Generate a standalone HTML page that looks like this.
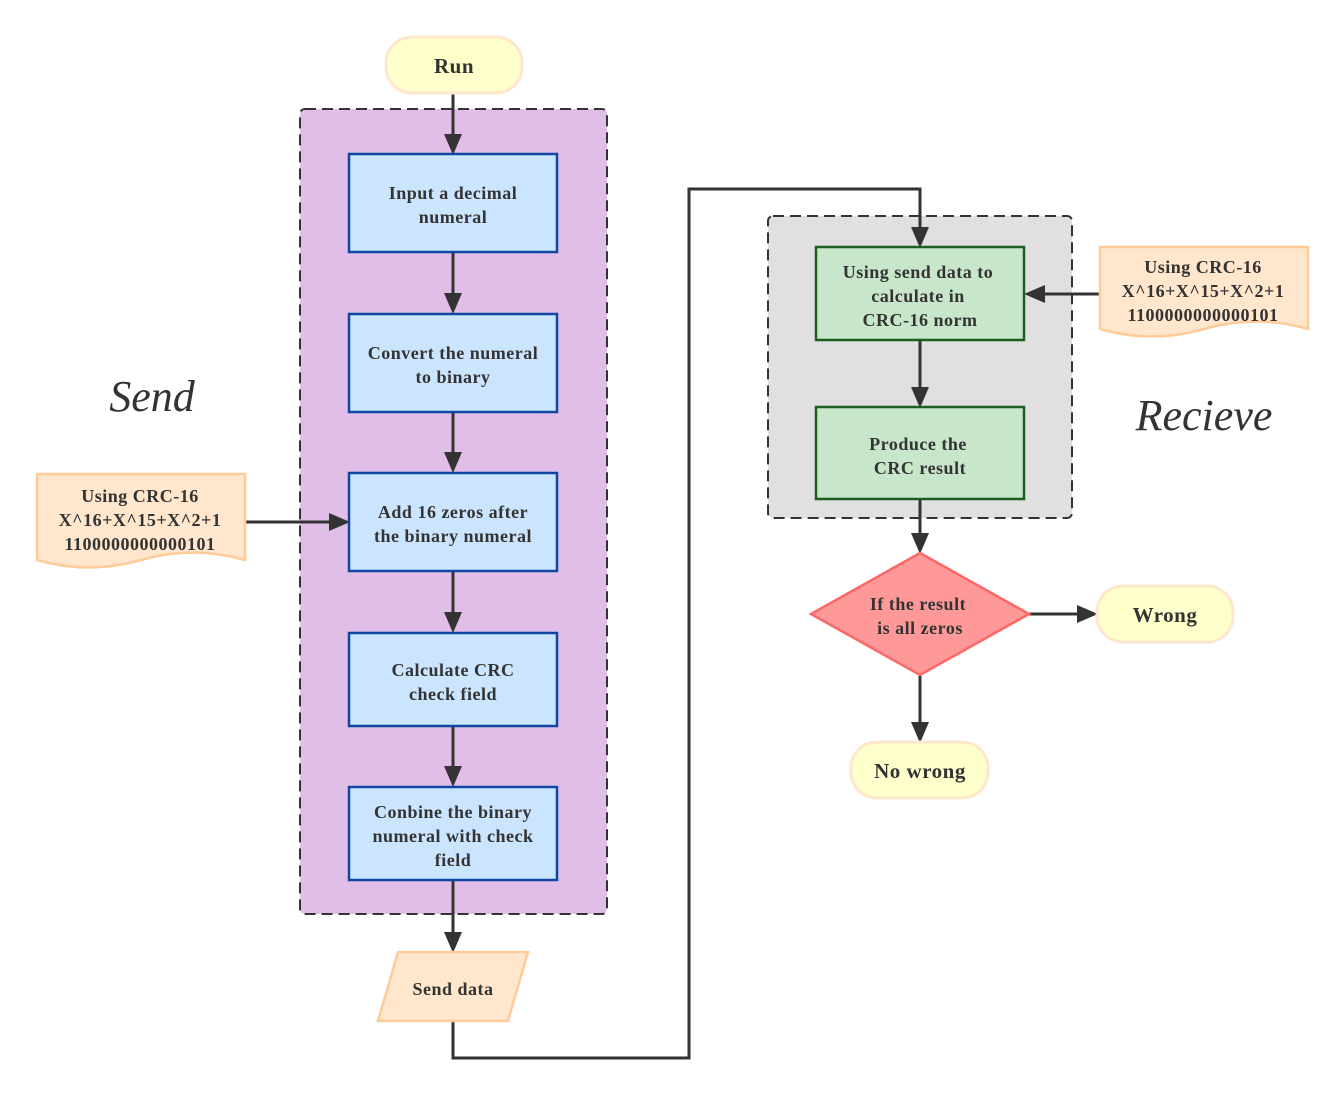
<!DOCTYPE html>
<html><head><meta charset="utf-8"><style>
html,body{margin:0;padding:0;background:#fff;}
svg{display:block;}
text{font-family:"Liberation Serif",serif;font-weight:bold;font-size:18px;letter-spacing:0.5px;fill:#333;text-anchor:middle;}
.it{font-style:italic;font-weight:normal;font-size:44px;letter-spacing:0;}
</style></head><body>
<svg width="1344" height="1095" viewBox="0 0 1344 1095" xmlns="http://www.w3.org/2000/svg">
<rect x="300" y="109" width="307" height="805" rx="5" fill="#e1bee7" stroke="#333" stroke-width="2" stroke-dasharray="11 6"/>
<rect x="768" y="216" width="304" height="302" rx="5" fill="#e0e0e0" stroke="#333" stroke-width="2" stroke-dasharray="11 6"/>

<g stroke="#333" stroke-width="3" fill="none">
<line x1="453" y1="93" x2="453" y2="140"/>
<line x1="453" y1="252" x2="453" y2="300"/>
<line x1="453" y1="412" x2="453" y2="459"/>
<line x1="453" y1="571" x2="453" y2="619"/>
<line x1="453" y1="726" x2="453" y2="773"/>
<line x1="453" y1="880" x2="453" y2="938"/>
<line x1="245" y1="522" x2="335" y2="522"/>
<polyline points="453,1021 453,1058 689,1058 689,189 920,189 920,233"/>
<line x1="920" y1="340" x2="920" y2="393"/>
<line x1="920" y1="499" x2="920" y2="539"/>
<line x1="1100" y1="294" x2="1038" y2="294"/>
<line x1="1029" y1="614" x2="1083" y2="614"/>
<line x1="920" y1="675" x2="920" y2="728"/>
</g>
<g fill="#333">
<polygon points="444,134 462,134 453,155"/>
<polygon points="444,293 462,293 453,314"/>
<polygon points="444,452 462,452 453,473"/>
<polygon points="444,612 462,612 453,633"/>
<polygon points="444,766 462,766 453,787"/>
<polygon points="444,932 462,932 453,953"/>
<polygon points="329,513 329,531 350,522"/>
<polygon points="911,227 929,227 920,248"/>
<polygon points="911,387 929,387 920,408"/>
<polygon points="911,533 929,533 920,554"/>
<polygon points="1045,285 1045,303 1024,294"/>
<polygon points="1077,605 1077,623 1098,614"/>
<polygon points="911,722 929,722 920,743"/>
</g>

<rect x="386" y="37" width="136" height="56" rx="26" fill="#ffffcc" stroke="#ffe6cc" stroke-width="3"/>
<text x="454" y="73" style="font-size:21px">Run</text>

<g fill="#cce5ff" stroke="#0d47a1" stroke-width="2.5">
<rect x="349" y="154" width="208" height="98"/>
<rect x="349" y="314" width="208" height="98"/>
<rect x="349" y="473" width="208" height="98"/>
<rect x="349" y="633" width="208" height="93"/>
<rect x="349" y="787" width="208" height="93"/>
</g>
<text x="453" y="199">Input a decimal</text>
<text x="453" y="223">numeral</text>
<text x="453" y="359">Convert the numeral</text>
<text x="453" y="383">to binary</text>
<text x="453" y="518">Add 16 zeros after</text>
<text x="453" y="542">the binary numeral</text>
<text x="453" y="676">Calculate CRC</text>
<text x="453" y="700">check field</text>
<text x="453" y="818">Conbine the binary</text>
<text x="453" y="842">numeral with check</text>
<text x="453" y="866">field</text>

<text class="it" x="152" y="411">Send</text>
<text class="it" x="1204" y="430">Recieve</text>

<path d="M37,474 H245 V560 Q193,545 141,560 Q89,575 37,560 Z" fill="#ffe6cc" stroke="#ffcc99" stroke-width="2.5"/>
<text x="140" y="502">Using CRC-16</text>
<text x="140" y="526">X^16+X^15+X^2+1</text>
<text x="140" y="550">1100000000000101</text>
<path d="M1100,247 H1308 V329 Q1256,314 1204,329 Q1152,344 1100,329 Z" fill="#ffe6cc" stroke="#ffcc99" stroke-width="2.5"/>
<text x="1203" y="273">Using CRC-16</text>
<text x="1203" y="297">X^16+X^15+X^2+1</text>
<text x="1203" y="321">1100000000000101</text>

<polygon points="398,952 528,952 508,1021 378,1021" fill="#ffe6cc" stroke="#ffcc99" stroke-width="2.5"/>
<text x="453" y="995">Send data</text>

<g fill="#c8e6c9" stroke="#1b5e20" stroke-width="2.5">
<rect x="816" y="247" width="208" height="93"/>
<rect x="816" y="407" width="208" height="92"/>
</g>
<text x="918" y="278">Using send data to</text>
<text x="918" y="302">calculate in</text>
<text x="920" y="326">CRC-16 norm</text>
<text x="918" y="450">Produce the</text>
<text x="920" y="474">CRC result</text>

<polygon points="920,553 1029,614 920,675 811,614" fill="#ff9999" stroke="#ff6666" stroke-width="2.5"/>
<text x="918" y="610">If the result</text>
<text x="920" y="634">is all zeros</text>

<rect x="1097" y="586" width="136" height="56" rx="26" fill="#ffffcc" stroke="#ffe6cc" stroke-width="3"/>
<text x="1165" y="622" style="font-size:21px">Wrong</text>
<rect x="851" y="742" width="137" height="56" rx="26" fill="#ffffcc" stroke="#ffe6cc" stroke-width="3"/>
<text x="920" y="778" style="font-size:21px">No wrong</text>
</svg>
</body></html>
